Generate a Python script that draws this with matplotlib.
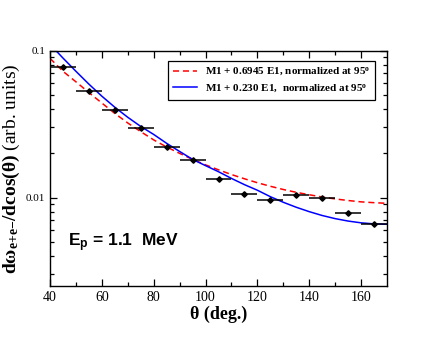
import numpy as np
import matplotlib
matplotlib.use('Agg')
import matplotlib.pyplot as plt

plt.rcParams['mathtext.fontset'] = 'custom'
plt.rcParams['mathtext.rm'] = 'Liberation Serif'
plt.rcParams['mathtext.it'] = 'Liberation Serif:italic'
plt.rcParams['mathtext.bf'] = 'Liberation Serif:bold'
plt.rcParams['mathtext.sf'] = 'Liberation Sans:bold'

# measured points (theta, deg.) with +-5 deg bins
theta = [45, 55, 65, 75, 85, 95, 105, 115, 125, 135, 145, 155, 165]
yield_ = [0.0778, 0.0532, 0.0394, 0.0299, 0.0222, 0.0181, 0.0133,
          0.01064, 0.00964, 0.0104, 0.0100, 0.0079, 0.0066]
xerr = [5] * len(theta)
yerr_frac = 0.03

# model curves
th_curve = [40, 45, 50, 55, 60, 65, 70, 75, 80, 85, 90, 95, 100, 105, 110,
            115, 120, 125, 130, 135, 140, 145, 150, 155, 160, 165, 170]
red_curve = [0.0887, 0.0724, 0.0614, 0.0519, 0.0440, 0.0374, 0.0322, 0.0281,
             0.0247, 0.0221, 0.0200, 0.0182, 0.0167, 0.01545, 0.01435,
             0.01343, 0.01262, 0.01194, 0.01135, 0.01086, 0.01045, 0.01009,
             0.00979, 0.00955, 0.00935, 0.00923, 0.00914]
blue_curve = [0.1104, 0.0891, 0.0724, 0.0592, 0.0490, 0.0412, 0.0352, 0.0305,
              0.0269, 0.0234, 0.0206, 0.0182, 0.0165, 0.0150, 0.0135,
              0.01225, 0.01122, 0.01014, 0.00929, 0.00859, 0.00802, 0.00755,
              0.00719, 0.00692, 0.00673, 0.00662, 0.00658]

fig = plt.figure(figsize=(4.36, 3.37), dpi=100)
ax = fig.add_axes([0.1147, 0.1513, 0.7729, 0.6983])

ax.plot(th_curve, red_curve, color='red', ls=(0, (4, 2.5)), lw=1.1,
        label='M1 + 0.6945 E1, normalized at 95$^\\mathregular{o}$')
ax.plot(th_curve, blue_curve, color='blue', lw=1.1,
        label='M1 + 0.230 E1,  normalized at 95$^\\mathregular{o}$')
yerr = [v * yerr_frac for v in yield_]
ax.errorbar(theta, yield_, xerr=xerr, yerr=yerr, fmt='D', color='black',
            ms=2.8, elinewidth=1.1, capsize=0, zorder=3)

ax.set_yscale('log')
ax.set_xlim(40, 170)
ax.set_ylim(0.0025, 0.1)
ax.set_xticks([40, 60, 80, 100, 120, 140, 160])
ax.set_xticks(range(50, 170, 20), minor=True)
ax.set_yticks([0.01, 0.1])
ax.set_yticklabels(['0.01', '0.1'])
ax.tick_params(which='both', direction='in', top=True, right=True)
ax.tick_params(which='major', length=5, width=0.9)
ax.tick_params(which='minor', length=3, width=0.9)
ax.tick_params(axis='y', which='minor', labelleft=False)
for lab in ax.get_xticklabels():
    lab.set_family('Liberation Serif')
    lab.set_fontsize(10)
for lab in ax.get_yticklabels():
    lab.set_family('Liberation Serif')
    lab.set_fontsize(8)
for s in ax.spines.values():
    s.set_linewidth(1.0)

ax.set_xlabel('θ (deg.)', family='Liberation Serif', fontweight='bold',
              fontsize=13, labelpad=1)
ax.set_ylabel(r'$\mathbf{d\omega_{e{+}e{-}}/dcos(\theta)}$ (arb. units)',
              family='Liberation Serif', fontsize=14, labelpad=3)

ax.text(47, 0.00462, r'E$_\mathsf{p}$ = 1.1  MeV', family='Liberation Sans',
        fontweight='bold', fontsize=12.5)

leg = ax.legend(loc='upper left', bbox_to_anchor=(0.35, 0.957), fancybox=False,
                edgecolor='black', framealpha=1, handlelength=2.2,
                handletextpad=0.7,
                prop={'family': 'Liberation Serif', 'weight': 'bold', 'size': 8},
                borderaxespad=0, borderpad=0.45, labelspacing=0.4)
leg.get_frame().set_linewidth(0.9)

fig.savefig('out.png', dpi=100)
